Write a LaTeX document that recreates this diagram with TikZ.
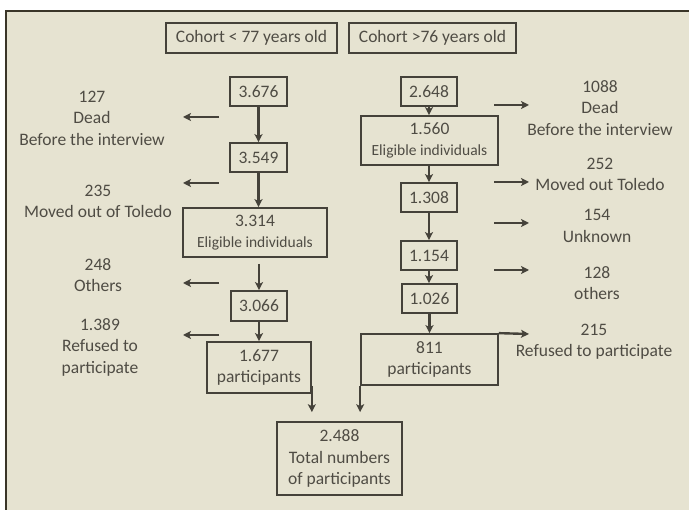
\documentclass[tikz,border=0pt]{standalone}
\usepackage{fontspec}
\setmainfont{Carlito}
\usetikzlibrary{arrows.meta}
\definecolor{bg}{HTML}{E6E3D1}
\definecolor{ink}{HTML}{45423A}
\definecolor{txt}{HTML}{4F4C44}
\definecolor{framec}{HTML}{3A3528}
\newcommand\fmain{\fontsize{17.5}{21.5}\selectfont}
\newcommand\fsmall{\fontsize{15.5}{21}\selectfont}
\begin{document}
\begin{tikzpicture}[x=1pt,y=-1pt,
  box/.style={draw=ink,line width=1.7pt,inner sep=0pt,align=center,text=txt,font=\fmain},
  lbl/.style={inner sep=0pt,align=center,text=txt,font=\fmain},
  arr/.style={draw=ink,line width=2.2pt,-{Stealth[length=8pt,width=8pt,inset=2pt]}},
  side/.style={draw=ink,line width=2.4pt,-{Stealth[length=8pt,width=8pt,inset=2pt]}}]
\useasboundingbox (0,0) rectangle (689,510);
\fill[white] (0,0) rectangle (689,510);
\fill[bg] (6,11) rectangle (690,511);
\draw[framec,line width=1.6pt] (6,511) -- (6,11) -- (690,11);

% header boxes
\node[box,minimum width=171pt,minimum height=30pt] (c1) at (251.5,38) {Cohort < 77 years old};
\node[box,minimum width=167pt,minimum height=30pt] (c2) at (432.5,38) {Cohort >76 years old};

% left column
\node[box,minimum width=57pt,minimum height=29pt] (a1) at (258.5,91.5) {3.676};
\node[box,minimum width=57pt,minimum height=29pt] (a2) at (258.5,157.5) {3.549};
\node[box,minimum width=144pt,minimum height=49pt] (a3) at (255,232.5) {3.314\\{\fsmall Eligible individuals}};
\node[box,minimum width=56pt,minimum height=30pt] (a4) at (259,306) {3.066};
\node[box,minimum width=104pt,minimum height=51pt] (a5) at (259,367.5) {1.677\\participants};

% right column
\node[box,minimum width=56pt,minimum height=29pt] (b1) at (429,91.5) {2.648};
\node[box,minimum width=137pt,minimum height=49pt] (b2) at (429.5,140.5) {1.560\\{\fsmall Eligible individuals}};
\node[box,minimum width=56pt,minimum height=29pt] (b3) at (429,197.5) {1.308};
\node[box,minimum width=56pt,minimum height=29pt] (b4) at (429,255.5) {1.154};
\node[box,minimum width=55pt,minimum height=29pt] (b5) at (429.5,298.5) {1.026};
\node[box,minimum width=137pt,minimum height=51pt] (b6) at (429.5,359.5) {811\\participants};

% total
\node[box,minimum width=125pt,minimum height=73pt] (t) at (339.5,458.5) {2.488\\Total numbers\\of participants};

% left labels
\node[lbl] (l1) at (92,118) {127\\Dead\\Before the interview};
\node[lbl] (l2) at (98,201.5) {235\\Moved out of Toledo};
\node[lbl] (l3) at (98,275) {248\\Others};
\node[lbl] (l4) at (100,347) {1.389\\Refused to\\participate};

% right labels
\node[lbl] (r1) at (600,108) {1088\\Dead\\Before the interview};
\node[lbl] (r2) at (600,174.5) {252\\Moved out Toledo};
\node[lbl] (r3) at (597,226) {154\\Unknown};
\node[lbl] (r4) at (597,283) {128\\others};
\node[lbl] (r5) at (594,341.5) {215\\Refused to participate};

% side arrow coordinates
\coordinate (la1s) at (219,117); \coordinate (la1e) at (183,117);
\coordinate (la2s) at (219,183); \coordinate (la2e) at (183,183);
\coordinate (la3s) at (219,283); \coordinate (la3e) at (183,283);
\coordinate (la4s) at (219,335); \coordinate (la4e) at (183,335);
\coordinate (ra1s) at (494,105); \coordinate (ra1e) at (529,105);
\coordinate (ra2s) at (494,182); \coordinate (ra2e) at (529,182);
\coordinate (ra3s) at (494,223); \coordinate (ra3e) at (529,223);
\coordinate (ra4s) at (494,270); \coordinate (ra4e) at (529,270);
\coordinate (ra5e) at (529,334);

\draw[side] (la1s) -- (la1e);
\draw[side] (la2s) -- (la2e);
\draw[side] (la3s) -- (la3e);
\draw[side] (la4s) -- (la4e);
\draw[side] (ra1s) -- (ra1e);
\draw[side] (ra2s) -- (ra2e);
\draw[side] (ra3s) -- (ra3e);
\draw[side] (ra4s) -- (ra4e);
\draw[side] (b6.north east) -- (ra5e);

% vertical flow, left
\draw[arr] (a1.south) -- (a1.south |- a2.north);
\draw[arr] (a2.south) -- (a2.south |- a3.north);
\draw[arr] ([yshift=-6pt]a3.south -| a4.north) -- (a4.north);
\draw[arr] (a4.south) -- (a4.south |- a5.north);
\draw[arr,shorten >=9pt] ([yshift=8pt]a5.south east) -- (a5.south east |- t.north);

% vertical flow, right
\draw[arr] (b1.south) -- (b1.south |- b2.north);
\draw[arr] (b2.south -| b3.north) -- (b3.north);
\draw[arr] (b3.south) -- (b4.north);
\draw[arr] (b4.south) -- (b4.south |- b5.north);
\draw[arr] (b5.south) -- (b5.south |- b6.north);
\draw[arr,shorten >=9pt] (b6.south west) -- (b6.south west |- t.north);
\end{tikzpicture}
\end{document}
